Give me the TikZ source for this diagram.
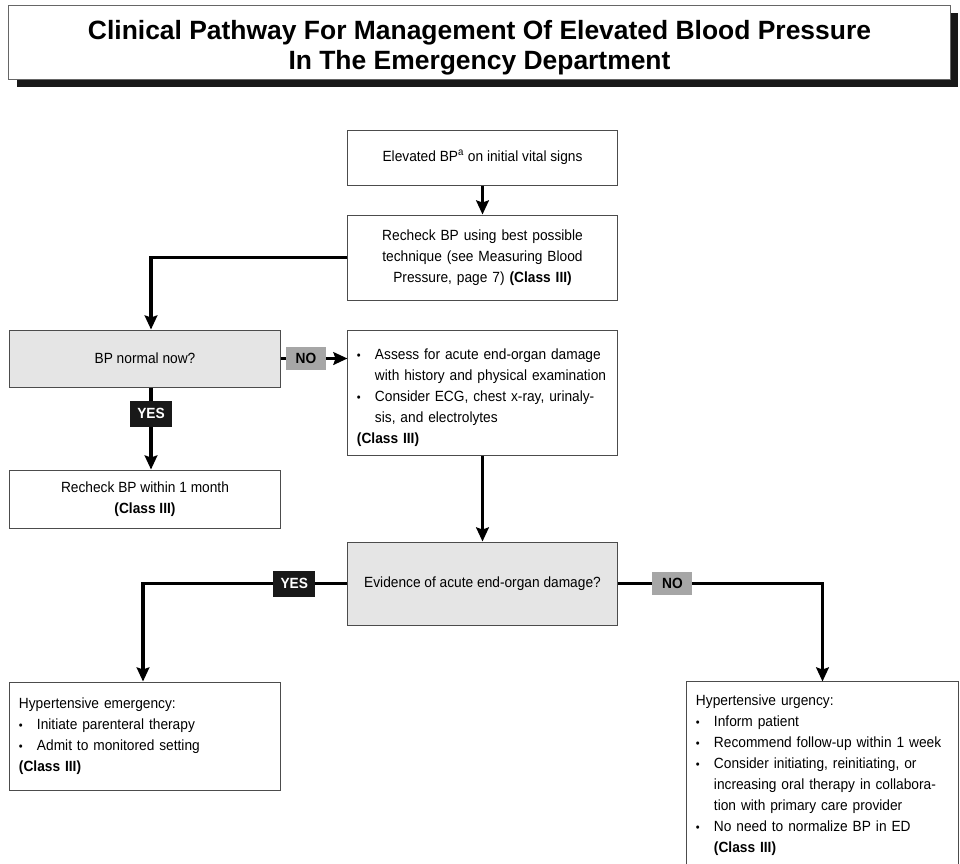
\documentclass[tikz,border=0pt]{standalone}
\usepackage{graphicx}
\usepackage{fontspec}
\setmainfont{Liberation Sans}[FakeStretch=0.93]
\newfontfamily\titlefont{Liberation Sans}
\usetikzlibrary{arrows.meta}
\usetikzlibrary{shadows}

\newcommand{\itm}{\par\hangindent=0.45cm\hangafter=1\makebox[0.45cm][l]{\scalebox{0.8}{\textbullet}}}

\begin{document}
\begin{tikzpicture}[x=0.025cm, y=-0.025cm, >={Stealth[length=10pt,width=9pt,inset=1.5pt]},
    every node/.style={font=\fontsize{10.5}{15}\selectfont},
    stepbox/.style={draw=black!70, line width=0.7pt, inner sep=0pt, align=center},
    askbox/.style={stepbox, fill=black!10},
    listbox/.style={stepbox, align=left, inner xsep=0.225cm},
    yeslbl/.style={fill=black!90, text=white, inner sep=0pt, minimum width=1.05cm, minimum height=0.65cm, font=\fontsize{10.5}{12}\selectfont\bfseries},
    nolbl/.style={fill=black!35, inner sep=0pt, minimum width=1cm, minimum height=0.57cm, font=\fontsize{10.5}{12}\selectfont\bfseries},
    flow/.style={->, line width=2.6pt}]
    \useasboundingbox (0,0) rectangle (960,863);

    \node[draw=black!60, line width=0.7pt, fill=white, inner ysep=0pt, minimum width=23.525cm, minimum height=1.85cm, align=center,
        drop shadow={shadow xshift=0.2cm, shadow yshift=-0.2cm, fill=black!90, opacity=1},
        font=\titlefont\fontsize{18.8}{21.5}\selectfont\bfseries] (title) at (479.5,42)
        {\rule{0pt}{22pt}Clinical Pathway For Management Of Elevated Blood Pressure\\ In The Emergency Department};

    \node[stepbox, minimum width=6.725cm, minimum height=1.375cm] (elev) at (482.5,157.5) {Elevated BP\textsuperscript{a} on initial vital signs};
    \node[stepbox, minimum width=6.725cm, minimum height=2.125cm, text width=6.4cm] (recheck) at (482.5,257.5)
        {Recheck BP using best possible\\ technique (see Measuring Blood\\ Pressure, page 7) \textbf{(Class III)}};
    \node[askbox, minimum width=6.75cm, minimum height=1.425cm] (normal) at (145,358.5) {BP normal now?};
    \node[listbox, text width=6.275cm, minimum height=3.125cm] (assess) at (482.5,392.5)
        {\itm Assess for acute end-organ damage\newline with history and physical examination
         \itm Consider ECG, chest x-ray, urinaly-\newline sis, and electrolytes\par
         \textbf{(Class III)}};
    \node[stepbox, minimum width=6.75cm, minimum height=1.45cm] (month) at (145,499) {Recheck BP within 1 month\\ \textbf{(Class III)}};
    \node[askbox, minimum width=6.725cm, minimum height=2.075cm] (evid) at (482.5,583.5) {Evidence of acute end-organ damage?};
    \node[listbox, text width=6.3cm, minimum height=2.7cm] (emerg) at (145,736)
        {Hypertensive emergency:
         \itm Initiate parenteral therapy
         \itm Admit to monitored setting\par
         \textbf{(Class III)}};
    \node[listbox, text width=6.325cm, minimum height=4.65cm] (urg) at (822.5,775)
        {Hypertensive urgency:
         \itm Inform patient
         \itm Recommend follow-up within 1 week
         \itm Consider initiating, reinitiating, or\newline increasing oral therapy in collabora-\newline tion with primary care provider
         \itm No need to normalize BP in ED\newline \textbf{(Class III)}\par};

    \draw[flow] (elev) -- (recheck);
    \draw[flow] (recheck.west) -| ([xshift=0.15cm]normal.north);
    \draw[flow] (normal.east) -- node[nolbl, pos=0.38]{NO} (normal.east -| assess.west);
    \draw[flow] ([xshift=0.15cm]normal.south) -- node[yeslbl, pos=0.32]{YES} ([xshift=0.15cm]month.north);
    \draw[flow] (assess) -- (evid);
    \draw[flow] (evid.west) -| node[yeslbl, pos=0.13]{YES} ([xshift=-0.05cm]emerg.north);
    \draw[flow] (evid.east) -| node[nolbl, pos=0.134]{NO} (urg.north);

\end{tikzpicture}
\end{document}
